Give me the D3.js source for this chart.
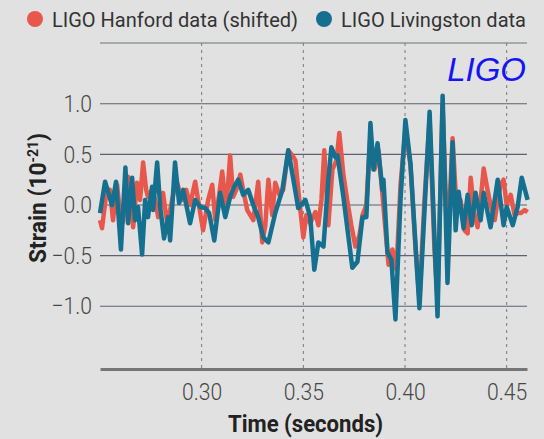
<!DOCTYPE html>
<html lang="en">
<head>
    <meta charset="utf-8">
    <title>LIGO strain</title>
    <script src="https://cdn.jsdelivr.net/npm/d3@7"></script>
    <style>
        body { margin: 0; background: #e1e1e1; }
        svg { display: block; }
    </style>
</head>
<body>
</body>
</html>
<script>
    // time (s) and strain (1e-21)
    var hanfordT = [0.2500, 0.2510, 0.2530, 0.2549, 0.2564, 0.2584, 0.2599, 0.2613, 0.2638, 0.2663,
        0.2682, 0.2697, 0.2712, 0.2727, 0.2736, 0.2756, 0.2771, 0.2786, 0.2810, 0.2830,
        0.2845, 0.2865, 0.2879, 0.2904, 0.2924, 0.2943, 0.2968, 0.2993, 0.3007, 0.3032,
        0.3052, 0.3067, 0.3086, 0.3101, 0.3121, 0.3140, 0.3155, 0.3170, 0.3190, 0.3209,
        0.3224, 0.3254, 0.3278, 0.3298, 0.3313, 0.3328, 0.3347, 0.3362, 0.3382, 0.3401,
        0.3426, 0.3446, 0.3461, 0.3480, 0.3500, 0.3515, 0.3534, 0.3559, 0.3574, 0.3589,
        0.3603, 0.3623, 0.3643, 0.3663, 0.3677, 0.3697, 0.3717, 0.3736, 0.3756, 0.3776,
        0.3791, 0.3810, 0.3830, 0.3850, 0.3869, 0.3889, 0.3904, 0.3919, 0.3938, 0.3958,
        0.3978, 0.4002, 0.4027, 0.4052, 0.4071, 0.4096, 0.4121, 0.4145, 0.4160, 0.4185,
        0.4209, 0.4234, 0.4254, 0.4273, 0.4293, 0.4308, 0.4323, 0.4342, 0.4357, 0.4372,
        0.4387, 0.4406, 0.4421, 0.4441, 0.4456, 0.4470, 0.4485, 0.4500, 0.4520, 0.4539,
        0.4554, 0.4569, 0.4589, 0.4603];
    var hanfordV = [-0.15, -0.23, 0.10, 0.15, -0.15, 0.20, -0.10, -0.17, 0.28, -0.22,
        0.22, 0.05, 0.42, 0.15, 0.08, 0.15, 0.05, -0.12, 0.12, -0.18,
        -0.05, 0.15, 0.22, 0.05, 0.15, 0.00, 0.23, -0.08, -0.25, 0.05,
        0.20, -0.15, 0.10, 0.33, -0.05, 0.49, 0.08, 0.15, 0.30, 0.10,
        -0.05, -0.15, 0.23, -0.37, -0.20, 0.25, -0.10, 0.22, 0.10, 0.15,
        0.54, 0.49, 0.44, 0.05, -0.32, -0.10, -0.18, -0.07, -0.20, 0.05,
        0.54, -0.20, 0.35, 0.44, 0.71, 0.30, 0.03, -0.20, -0.41, -0.30,
        -0.10, 0.00, 0.69, 0.35, 0.54, 0.10, -0.25, -0.59, -0.44, -0.64,
        0.20, 0.74, 0.39, -0.44, -0.94, 0.05, 0.84, -0.44, -0.94, 0.99,
        -0.44, 0.66, -0.05, 0.05, -0.25, -0.28, 0.27, -0.10, -0.22, 0.05,
        0.36, 0.15, 0.00, -0.15, 0.05, 0.20, 0.25, 0.00, 0.10, -0.10,
        -0.08, -0.08, -0.05, -0.07];

    var livingstonT = [0.2500, 0.2525, 0.2559, 0.2579, 0.2603, 0.2625, 0.2638, 0.2658, 0.2672, 0.2687,
        0.2707, 0.2722, 0.2736, 0.2756, 0.2761, 0.2781, 0.2796, 0.2815, 0.2835, 0.2845,
        0.2869, 0.2889, 0.2909, 0.2943, 0.2968, 0.2993, 0.3017, 0.3037, 0.3062, 0.3091,
        0.3116, 0.3140, 0.3160, 0.3180, 0.3204, 0.3229, 0.3254, 0.3278, 0.3303, 0.3328,
        0.3362, 0.3397, 0.3426, 0.3451, 0.3475, 0.3510, 0.3534, 0.3554, 0.3574, 0.3599,
        0.3623, 0.3638, 0.3658, 0.3668, 0.3697, 0.3741, 0.3766, 0.3791, 0.3810, 0.3830,
        0.3845, 0.3865, 0.3889, 0.3894, 0.3914, 0.3933, 0.3953, 0.3978, 0.4002, 0.4027,
        0.4071, 0.4121, 0.4160, 0.4185, 0.4209, 0.4234, 0.4249, 0.4264, 0.4288, 0.4308,
        0.4328, 0.4347, 0.4372, 0.4387, 0.4421, 0.4456, 0.4485, 0.4500, 0.4530, 0.4554,
        0.4574, 0.4603];
    var livingstonV = [-0.08, 0.23, 0.00, 0.23, -0.44, 0.37, -0.18, 0.27, -0.15, -0.02,
        -0.49, 0.05, -0.12, 0.18, -0.05, 0.42, -0.02, -0.33, -0.12, -0.35,
        0.42, 0.02, 0.15, -0.18, 0.05, -0.02, -0.03, -0.08, -0.35, 0.12,
        -0.12, 0.08, 0.18, 0.25, 0.10, 0.15, 0.00, -0.12, -0.32, -0.37,
        -0.08, 0.15, 0.54, 0.25, -0.03, 0.05, -0.12, -0.64, -0.37, -0.41,
        0.25, 0.57, 0.47, 0.49, 0.08, -0.62, -0.56, -0.12, -0.12, 0.81,
        0.35, 0.61, 0.15, 0.25, -0.47, -0.54, -1.13, 0.05, 0.84, 0.41,
        -1.02, 0.92, -1.10, 1.08, -0.77, 0.62, -0.25, 0.13, -0.23, 0.10,
        -0.20, 0.12, -0.15, 0.12, -0.22, 0.25, -0.20, -0.02, -0.20, -0.02,
        0.27, 0.05];

    var xTicks = [0.30, 0.35, 0.40, 0.45];
    var yTicks = [1.0, 0.5, 0.0, -0.5, -1.0];

    var width = 544;
    var height = 439;
    var font = "Roboto, 'Liberation Sans', sans-serif";

    var svg = d3.select("body")
            .append("svg")
            .attr("width", width)
            .attr("height", height);

    svg.append("rect")
            .attr("width", width)
            .attr("height", height)
            .attr("fill", "#e1e1e1");

    //比例尺
    var x = d3.scaleLinear().domain([0.25, 0.46]).range([100, 527]);
    var y = d3.scaleLinear().domain([-1.62, 1.6]).range([369, 43]);

    //虚线竖格
    svg.append("g")
            .selectAll("line")
            .data(xTicks)
            .enter().append("line")
            .attr("x1", function (d) { return x(d); })
            .attr("x2", function (d) { return x(d); })
            .attr("y1", y(1.6))
            .attr("y2", y(-1.62))
            .attr("stroke", "#7a7a7a")
            .attr("stroke-width", 1)
            .attr("stroke-dasharray", "3,4");

    //横格线
    svg.append("g")
            .selectAll("line")
            .data(yTicks)
            .enter().append("line")
            .attr("x1", x(0.25))
            .attr("x2", x(0.46))
            .attr("y1", function (d) { return y(d); })
            .attr("y2", function (d) { return y(d); })
            .attr("stroke", "#5d6272")
            .attr("stroke-width", 1.2);

    //顶线
    svg.append("line")
            .attr("x1", x(0.25)).attr("x2", x(0.46))
            .attr("y1", y(1.6)).attr("y2", y(1.6))
            .attr("stroke", "#6a7080")
            .attr("stroke-width", 1);

    //曲线
    var line = d3.line()
            .x(function (d) { return x(d[0]); })
            .y(function (d) { return y(d[1]); });

    var series = [
        {t: hanfordT, v: hanfordV, color: "#e8574b"},
        {t: livingstonT, v: livingstonV, color: "#15708f"}
    ];
    series.forEach(function (s) {
        svg.append("path")
                .datum(d3.zip(s.t, s.v))
                .attr("d", line)
                .attr("fill", "none")
                .attr("stroke", s.color)
                .attr("stroke-width", 4.5)
                .attr("stroke-linejoin", "round");
    });

    //底轴
    var xAxis = d3.axisBottom(x)
            .tickValues(xTicks)
            .tickFormat(d3.format(".2f"))
            .tickSize(0)
            .tickPadding(14);
    var gx = svg.append("g")
            .attr("transform", "translate(0," + y(-1.62) + ")")
            .call(xAxis);
    gx.select(".domain")
            .attr("stroke", "#767676")
            .attr("stroke-width", 3);
    gx.selectAll("text")
            .attr("fill", "#474747")
            .attr("transform", "scale(0.88,1)")
            .style("font-family", font)
            .style("font-weight", 300)
            .style("font-size", "24px");

    //左轴
    var yAxis = d3.axisLeft(y)
            .tickValues(yTicks)
            .tickFormat(d3.format(".1f"))
            .tickSize(0)
            .tickPadding(9);
    var gy = svg.append("g")
            .attr("transform", "translate(" + x(0.25) + ",0)")
            .call(yAxis);
    gy.select(".domain").remove();
    gy.selectAll("text")
            .attr("fill", "#474747")
            .attr("transform", "scale(0.88,1)")
            .style("font-family", font)
            .style("font-weight", 300)
            .style("font-size", "24px");

    //轴标题
    svg.append("text")
            .attr("x", 228)
            .attr("y", 432)
            .attr("textLength", 155)
            .attr("lengthAdjust", "spacingAndGlyphs")
            .attr("fill", "#222")
            .style("font-family", font)
            .style("font-size", "24px")
            .style("font-weight", "bold")
            .text("Time (seconds)");

    var yt = svg.append("text")
            .attr("transform", "translate(46,263) rotate(-90)")
            .attr("textLength", 130)
            .attr("lengthAdjust", "spacingAndGlyphs")
            .attr("fill", "#222")
            .style("font-family", font)
            .style("font-size", "23px")
            .style("font-weight", "bold");
    yt.append("tspan").text("Strain (10");
    yt.append("tspan").attr("dy", -8).style("font-size", "14px").text("-21");
    yt.append("tspan").attr("dy", 8).text(")");

    //图例
    var legend = [
        {label: "LIGO Hanford data (shifted)", color: "#e8574b", x: 35, w: 246},
        {label: "LIGO Livingston data", color: "#15708f", x: 324, w: 185}
    ];
    var lg = svg.append("g")
            .selectAll("g")
            .data(legend)
            .enter().append("g");
    lg.append("circle")
            .attr("cx", function (d) { return d.x; })
            .attr("cy", 19)
            .attr("r", 8)
            .attr("fill", function (d) { return d.color; });
    lg.append("text")
            .attr("x", function (d) { return d.x + 17; })
            .attr("y", 27)
            .attr("textLength", function (d) { return d.w; })
            .attr("lengthAdjust", "spacingAndGlyphs")
            .attr("fill", "#333")
            .style("font-family", font)
            .style("font-size", "21px")
            .text(function (d) { return d.label; });

    //LIGO 标记
    svg.append("text")
            .attr("x", 526)
            .attr("y", 81)
            .attr("text-anchor", "end")
            .attr("fill", "#1414f5")
            .style("font-family", "'Liberation Sans', Arial, sans-serif")
            .style("font-style", "italic")
            .style("font-size", "33px")
            .text("LIGO");
</script>
